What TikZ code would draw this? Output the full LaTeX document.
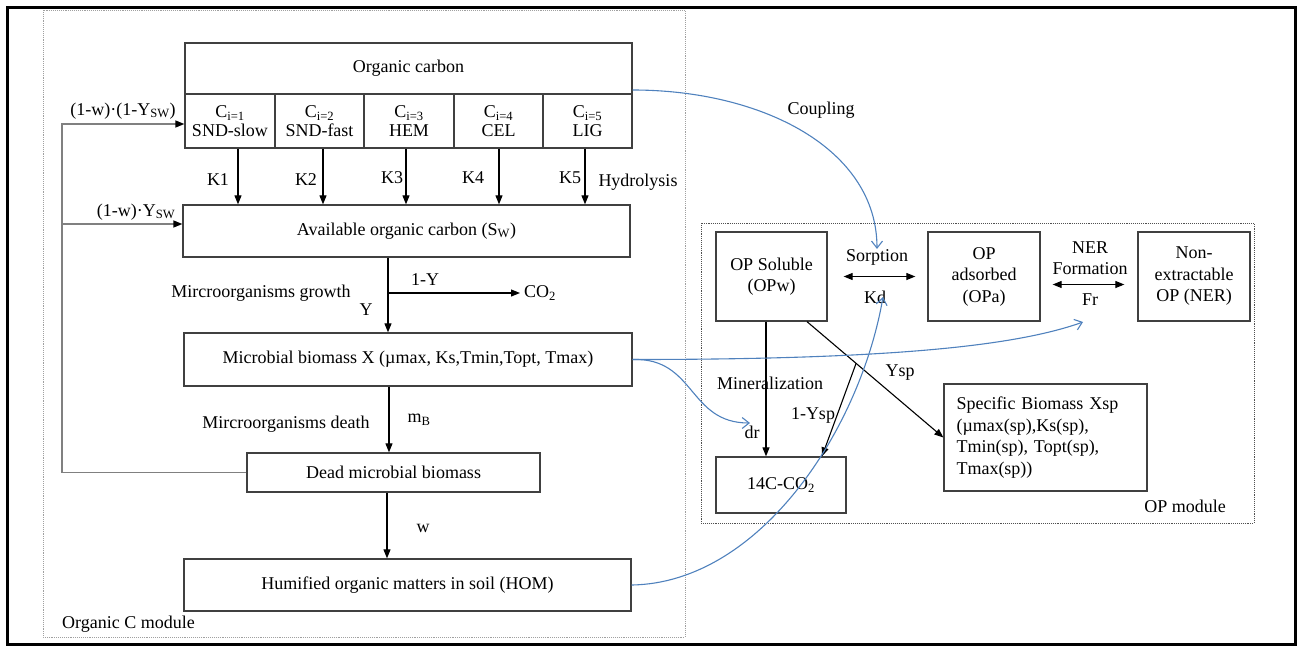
\documentclass[tikz,border=0pt]{standalone}
\usepackage{fontspec}
\setmainfont{Liberation Serif}
\usetikzlibrary{arrows.meta,calc}
\definecolor{boxc}{HTML}{404040}
\definecolor{fbc}{HTML}{808080}
\definecolor{bluec}{HTML}{4F81BD}
\definecolor{dotc}{HTML}{A0A0A0}
\definecolor{dotd}{HTML}{505050}
\begin{document}
\begin{tikzpicture}[x=1pt,y=-1pt,
  every node/.style={font=\fontsize{18}{21.5}\selectfont, inner sep=0pt, text=black},
  box/.style={draw=boxc, line width=1.3pt, align=center},
  cell/.style={box, minimum height=54pt, font=\fontsize{18}{18.5}\selectfont},
  arr/.style={draw=black, line width=1.1pt, -{Triangle[length=9pt,width=7pt]}},
  darr/.style={draw=black, line width=1.1pt, {Triangle[length=9pt,width=7pt]}-{Triangle[length=9pt,width=7pt]}},
  fbl/.style={draw=fbc, line width=1.5pt},
  fba/.style={fbl, -{Triangle[length=9pt,width=7pt,color=black]}},
  bl/.style={draw=bluec, line width=1.1pt, -{Straight Barb[length=7pt,width=11pt]}}]
\useasboundingbox (0,0) rectangle (1302,651);
% frames
\draw[line width=3pt] (7.5,7.5) rectangle (1295,644);
\draw[dotc, densely dotted, line width=0.9pt] (43,10) rectangle (685,637);
\draw[dotd, densely dotted, line width=0.9pt] (701,223) rectangle (1254,523);
% organic C module boxes
\node[box, minimum width=447pt, minimum height=51pt] (oc) at (408.5,68.5) {Organic carbon};
\node[cell, minimum width=90pt] (c1) at (230,121) {C\textsubscript{i=1}\\SND-slow};
\node[cell, minimum width=89pt] (c2) at (319.5,121) {C\textsubscript{i=2}\\SND-fast};
\node[cell, minimum width=90pt] (c3) at (409,121) {C\textsubscript{i=3}\\HEM};
\node[cell, minimum width=89pt] (c4) at (498.5,121) {C\textsubscript{i=4}\\CEL};
\node[cell, minimum width=89pt] (c5) at (587.5,121) {C\textsubscript{i=5}\\LIG};
\node[box, minimum width=447pt, minimum height=52pt] (avail) at (406.5,231) {Available organic carbon (S\textsubscript{W})};
\node[box, minimum width=448pt, minimum height=53pt] (micro) at (408,359.5) {Microbial biomass X (µmax, Ks,Tmin,Topt, Tmax)};
\node[box, minimum width=293pt, minimum height=39pt] (dead) at (393.5,472.5) {Dead microbial biomass};
\node[box, minimum width=447pt, minimum height=52pt] (hom) at (407.5,585) {Humified organic matters in soil (HOM)};
% OP module boxes
\node[box, minimum width=111pt, minimum height=89pt] (opw) at (771.5,276.5) {OP Soluble\\(OPw)};
\node[box, minimum width=112pt, minimum height=89pt] (opa) at (984,276.5) {OP\\adsorbed\\(OPa)};
\node[box, minimum width=112pt, minimum height=89pt] (ner) at (1194,276.5) {Non-\\extractable\\OP (NER)};
\node[box, minimum width=130pt, minimum height=56pt] (co) at (781,485) {14C-CO\textsubscript{2}};
\node[box, minimum width=203pt, minimum height=107pt, align=left, text width=178pt] (spec) at (1045.5,437.5) {Specific Biomass Xsp\\(µmax(sp),Ks(sp),\\Tmin(sp), Topt(sp),\\Tmax(sp))};
% labels
\node (l1) at (123,111) {(1-w)·(1-Y\textsubscript{SW})};
\node (l2) at (136,212) {(1-w)·Y\textsubscript{SW}};
\node (k1) at (218,180) {K1};
\node (k2) at (306,180) {K2};
\node (k3) at (392,178) {K3};
\node (k4) at (473,178) {K4};
\node (k5) at (570,178) {K5};
\node (hyd) at (638,182) {Hydrolysis};
\node (grow) at (261,293) {Mircroorganisms growth};
\node (oneY) at (425,280) {1-Y};
\node[anchor=west, inner sep=4pt] (co2) at (520,293) {CO\textsubscript{2}};
\node (Y) at (366,310) {Y};
\node (death) at (286,424) {Mircroorganisms death};
\node (mb) at (419,420) {m\textsubscript{B}};
\node (w) at (423,528) {w};
\node[anchor=west] (ocm) at (62,624) {Organic C module};
\node (coup) at (821,110) {Coupling};
\node (sorp) at (877,257) {Sorption};
\node (kd) at (875,297) {Kd};
\node[align=center] (nerf) at (1090,258) {NER\\Formation};
\node (fr) at (1090,300) {Fr};
\node (mine) at (770,383) {Mineralization};
\node (ysp) at (900,373) {Ysp};
\node (oneysp) at (813,415) {1-Ysp};
\node (dr) at (752,432) {dr};
\node (opm) at (1185,506) {OP module};
% coordinates
\coordinate (a1) at ([xshift=8pt]c1.south);
\coordinate (a2) at ([xshift=3.5pt]c2.south);
\coordinate (a3) at ([xshift=-3pt]c3.south);
\coordinate (a4) at ([xshift=0.5pt]c4.south);
\coordinate (a5) at ([xshift=-2.5pt]c5.south);
\coordinate (m0) at ([xshift=-18.5pt]avail.south);
\coordinate (d0) at ([xshift=-19pt]micro.south);
\coordinate (h0) at ([xshift=-6.5pt]dead.south);
\coordinate (fbx) at (62,0);
\coordinate (t1) at ([yshift=-3pt]c1.west);
\coordinate (t2) at ([yshift=7pt]avail.west);
\coordinate (frtip) at (1083,322);
\coordinate (drtip) at (750,423);
\coordinate (kdtip) at (883,297);
% organic C connectors
\foreach \a in {a1,a2,a3,a4,a5} \draw[arr] (\a) -- (\a |- avail.north);
\draw[arr] (m0) -- (m0 |- micro.north);
\draw[arr] (m0 |- co2.west) -- (co2.west);
\draw[arr] (d0) -- (d0 |- dead.north);
\draw[arr] (h0) -- (h0 |- hom.north);
\draw[fba] (dead.west) -| (fbx |- t1) -- (t1);
\draw[fba] (fbx |- t2) -- (t2);
% OP connectors
\draw[darr] ([xshift=16pt]opw.east) -- ([xshift=-12pt]opa.west);
\draw[darr] ([shift={(12pt,-8pt)}]opa.east) -- ([shift={(-13pt,-8pt)}]ner.west);
\draw[arr] ([xshift=-5.5pt]opw.south) -- ([xshift=-15pt]co.north);
\draw[arr] ([xshift=35.5pt]opw.south) -- (spec.west) coordinate[pos=0.36] (yb);
\draw[arr] (yb) -- ([xshift=41pt]co.north);
% coupling curves
\draw[bl] ([yshift=-21.5pt]oc.east) .. controls +(130,0) and +(0,-100) .. (sorp.north);
\draw[bl] (micro.east) .. controls +(250,0) and +(-70,25) .. (frtip);
\draw[bl] (micro.east) .. controls +(63,-2) and +(-62,0) .. (drtip);
\draw[bl] (hom.east) .. controls +(128,-2) and +(-23,133) .. (kdtip);
\end{tikzpicture}
\end{document}
